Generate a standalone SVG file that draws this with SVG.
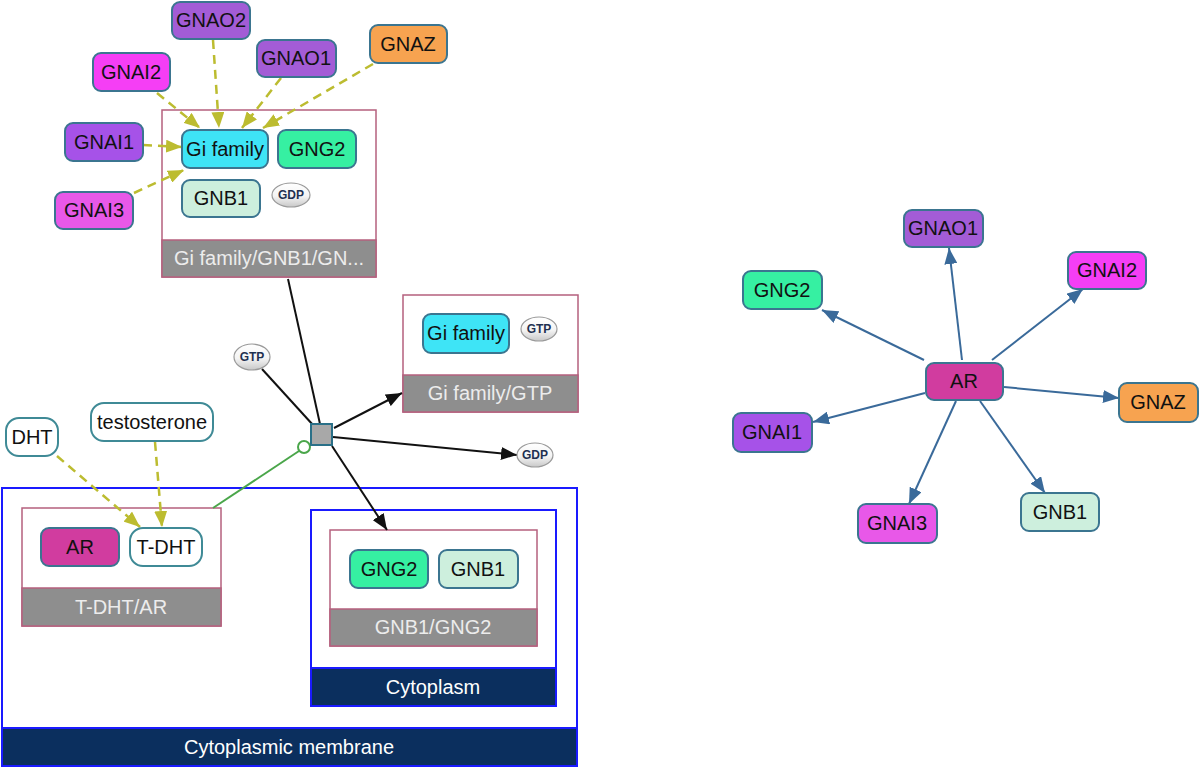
<svg xmlns="http://www.w3.org/2000/svg" width="1200" height="769" viewBox="0 0 1200 769">
<defs>
<style>
.n{stroke:#3b7590;stroke-width:2}
.t{font-family:"Liberation Sans",Arial,sans-serif;font-size:20px;fill:#111;text-anchor:middle}
.lt{font-family:"Liberation Sans",Arial,sans-serif;font-size:20px;fill:#ececec;text-anchor:middle}
.wt{font-family:"Liberation Sans",Arial,sans-serif;font-size:20px;fill:#ffffff;text-anchor:middle}
.st{font-family:"Liberation Sans",Arial,sans-serif;font-size:12px;font-weight:bold;fill:#1f3050;text-anchor:middle}
.cx{fill:#fff;stroke:#b5607e;stroke-width:1.5}
.cb{fill:#8e8e8e;stroke:#b5607e;stroke-width:1.5}
.cm{fill:#fff;stroke:#1a1aff;stroke-width:2}
.cmb{fill:#0b2f5e;stroke:#1a1aff;stroke-width:2}
.ol{stroke:#bcbc30;stroke-width:2.5;stroke-dasharray:9,6;fill:none;marker-end:url(#ao)}
.bk{stroke:#111;stroke-width:2;fill:none}
.bl{stroke:#3a6a9a;stroke-width:2;fill:none;marker-end:url(#ab)}
.sm{fill:url(#sg);stroke:#9a9a9a;stroke-width:1.2}
.ch{fill:#fff;stroke:#3f8a96;stroke-width:2}
</style>
<linearGradient id="sg" x1="0" y1="0" x2="0" y2="1">
<stop offset="0" stop-color="#ffffff"/><stop offset="0.55" stop-color="#f4f4f4"/><stop offset="1" stop-color="#c8c8c8"/>
</linearGradient>
<marker id="ao" markerUnits="userSpaceOnUse" markerWidth="16" markerHeight="13" refX="16" refY="6.5" orient="auto"><path d="M0,0 L16,6.5 L0,13 z" fill="#bcbc30"/></marker>
<marker id="ak" markerUnits="userSpaceOnUse" markerWidth="16" markerHeight="13" refX="16" refY="6.5" orient="auto"><path d="M0,0 L16,6.5 L0,13 z" fill="#111"/></marker>
<marker id="ab" markerUnits="userSpaceOnUse" markerWidth="16" markerHeight="13" refX="16" refY="6.5" orient="auto"><path d="M0,0 L16,6.5 L0,13 z" fill="#3a6a9a"/></marker>
</defs>
<rect width="1200" height="769" fill="#fff"/>

<g id="comp-membrane">
<rect class="cm" x="2" y="488" width="575" height="278"/>
<rect class="cmb" x="2" y="728" width="575" height="38"/>
<text class="wt" x="289" y="754">Cytoplasmic membrane</text>
</g>
<g id="comp-cytoplasm">
<rect class="cm" x="311" y="510" width="245" height="196"/>
<rect class="cmb" x="311" y="668" width="245" height="38"/>
<text class="wt" x="433" y="694">Cytoplasm</text>
</g>

<g id="cx-gi">
<rect class="cx" x="162" y="110" width="214" height="167"/>
<rect class="cb" x="162" y="240" width="214" height="37"/>
<text class="lt" x="269" y="265">Gi family/GNB1/GN...</text>
</g>
<g id="cx-gigtp">
<rect class="cx" x="403" y="295" width="175" height="117"/>
<rect class="cb" x="403" y="375" width="175" height="37"/>
<text class="lt" x="490" y="400">Gi family/GTP</text>
</g>
<g id="cx-tdhtar">
<rect class="cx" x="22" y="508" width="199" height="118"/>
<rect class="cb" x="22" y="588" width="199" height="38"/>
<text class="lt" x="121" y="614">T-DHT/AR</text>
</g>
<g id="cx-gnb1gng2">
<rect class="cx" x="330" y="530" width="207" height="116"/>
<rect class="cb" x="330" y="609" width="207" height="37"/>
<text class="lt" x="433" y="634">GNB1/GNG2</text>
</g>

<g id="connectors">
<path class="ol" d="M213,40 L219,128"/>
<path class="ol" d="M157,93 L200,128"/>
<path class="ol" d="M281,78 L242,128"/>
<path class="ol" d="M373,64 L263,128"/>
<path class="ol" d="M143,145 L182,147"/>
<path class="ol" d="M134,193 L184,170"/>
<path class="ol" d="M57,456 L140,527"/>
<path class="ol" d="M155,442 L162,527"/>
<path class="bk" d="M288,279 L320,424"/>
<path class="bk" d="M262,369 L313,425"/>
<path class="bk" d="M334,428 L402,393" marker-end="url(#ak)"/>
<path class="bk" d="M333,437 L517,455" marker-end="url(#ak)"/>
<path class="bk" d="M332,446 L387,530" marker-end="url(#ak)"/>
<path d="M213,508 L299,451" stroke="#4aa64a" stroke-width="2" fill="none"/>
<circle cx="304" cy="447" r="6" fill="#fff" stroke="#4aa64a" stroke-width="2"/>
<path class="bl" d="M962,360 L949,248"/>
<path class="bl" d="M924,360 L822,310"/>
<path class="bl" d="M992,360 L1083,289"/>
<path class="bl" d="M1004,387 L1119,398"/>
<path class="bl" d="M925,393 L813,422"/>
<path class="bl" d="M956,401 L909,504"/>
<path class="bl" d="M980,401 L1045,493"/>
</g>

<g id="process">
<rect x="311" y="424" width="21" height="21" fill="#a8a8a8" stroke="#2a7088" stroke-width="2"/>
</g>

<g id="GNAO2"><rect class="n" x="172" y="2" width="78" height="37" rx="8" fill="#a35cd6"/><text class="t" x="211" y="27">GNAO2</text></g>
<g id="GNAO1"><rect class="n" x="257" y="40" width="79" height="37" rx="8" fill="#a35cd6"/><text class="t" x="296" y="65">GNAO1</text></g>
<g id="GNAZ"><rect class="n" x="370" y="25" width="77" height="38" rx="8" fill="#f7a350"/><text class="t" x="408" y="51">GNAZ</text></g>
<g id="GNAI2"><rect class="n" x="93" y="53" width="77" height="38" rx="8" fill="#f53ef5"/><text class="t" x="131" y="79">GNAI2</text></g>
<g id="GNAI1"><rect class="n" x="65" y="123" width="78" height="38" rx="8" fill="#a652e8"/><text class="t" x="104" y="149">GNAI1</text></g>
<g id="GNAI3"><rect class="n" x="55" y="192" width="78" height="37" rx="8" fill="#e858e8"/><text class="t" x="94" y="217">GNAI3</text></g>
<g id="Gi-family"><rect class="n" x="182" y="130" width="86" height="38" rx="8" fill="#3ee4f6"/><text class="t" x="225" y="156">Gi family</text></g>
<g id="GNG2-a"><rect class="n" x="278" y="130" width="78" height="38" rx="8" fill="#36f0a2"/><text class="t" x="317" y="156">GNG2</text></g>
<g id="GNB1-a"><rect class="n" x="182" y="180" width="78" height="37" rx="8" fill="#cdefdd"/><text class="t" x="221" y="205">GNB1</text></g>
<g id="GDP-a"><ellipse class="sm" cx="291" cy="195" rx="19" ry="12"/><text class="st" x="291" y="199">GDP</text></g>

<g id="Gi-family-b"><rect class="n" x="423" y="314" width="86" height="39" rx="8" fill="#3ee4f6"/><text class="t" x="466" y="340">Gi family</text></g>
<g id="GTP-b"><ellipse class="sm" cx="539" cy="329" rx="18" ry="12"/><text class="st" x="539" y="333">GTP</text></g>
<g id="GTP"><ellipse class="sm" cx="252" cy="357" rx="18" ry="13"/><text class="st" x="252" y="361">GTP</text></g>
<g id="GDP"><ellipse class="sm" cx="535" cy="455" rx="18" ry="12"/><text class="st" x="535" y="459">GDP</text></g>

<g id="DHT"><rect class="ch" x="6" y="418" width="52" height="38" rx="13"/><text class="t" x="32" y="444">DHT</text></g>
<g id="testosterone"><rect class="ch" x="91" y="403" width="122" height="38" rx="13"/><text class="t" x="152" y="429">testosterone</text></g>
<g id="AR-a"><rect class="n" x="41" y="528" width="78" height="38" rx="8" fill="#d13c9f"/><text class="t" x="80" y="554">AR</text></g>
<g id="T-DHT"><rect class="ch" x="130" y="528" width="72" height="38" rx="13"/><text class="t" x="166" y="554">T-DHT</text></g>
<g id="GNG2-b"><rect class="n" x="350" y="550" width="78" height="38" rx="8" fill="#36f0a2"/><text class="t" x="389" y="576">GNG2</text></g>
<g id="GNB1-b"><rect class="n" x="439" y="550" width="79" height="38" rx="8" fill="#cdefdd"/><text class="t" x="478" y="576">GNB1</text></g>

<g id="AR"><rect class="n" x="926" y="363" width="77" height="37" rx="8" fill="#d13c9f"/><text class="t" x="964" y="388">AR</text></g>
<g id="GNAO1-r"><rect class="n" x="904" y="210" width="79" height="37" rx="8" fill="#a35cd6"/><text class="t" x="943" y="235">GNAO1</text></g>
<g id="GNAI2-r"><rect class="n" x="1068" y="252" width="78" height="37" rx="8" fill="#f53ef5"/><text class="t" x="1107" y="277">GNAI2</text></g>
<g id="GNG2-r"><rect class="n" x="743" y="271" width="79" height="38" rx="8" fill="#36f0a2"/><text class="t" x="782" y="297">GNG2</text></g>
<g id="GNAZ-r"><rect class="n" x="1119" y="383" width="79" height="39" rx="8" fill="#f7a350"/><text class="t" x="1158" y="409">GNAZ</text></g>
<g id="GNAI1-r"><rect class="n" x="733" y="413" width="79" height="39" rx="8" fill="#a652e8"/><text class="t" x="772" y="439">GNAI1</text></g>
<g id="GNAI3-r"><rect class="n" x="858" y="504" width="79" height="39" rx="8" fill="#e858e8"/><text class="t" x="897" y="530">GNAI3</text></g>
<g id="GNB1-r"><rect class="n" x="1021" y="493" width="78" height="38" rx="8" fill="#cdefdd"/><text class="t" x="1060" y="519">GNB1</text></g>
</svg>
